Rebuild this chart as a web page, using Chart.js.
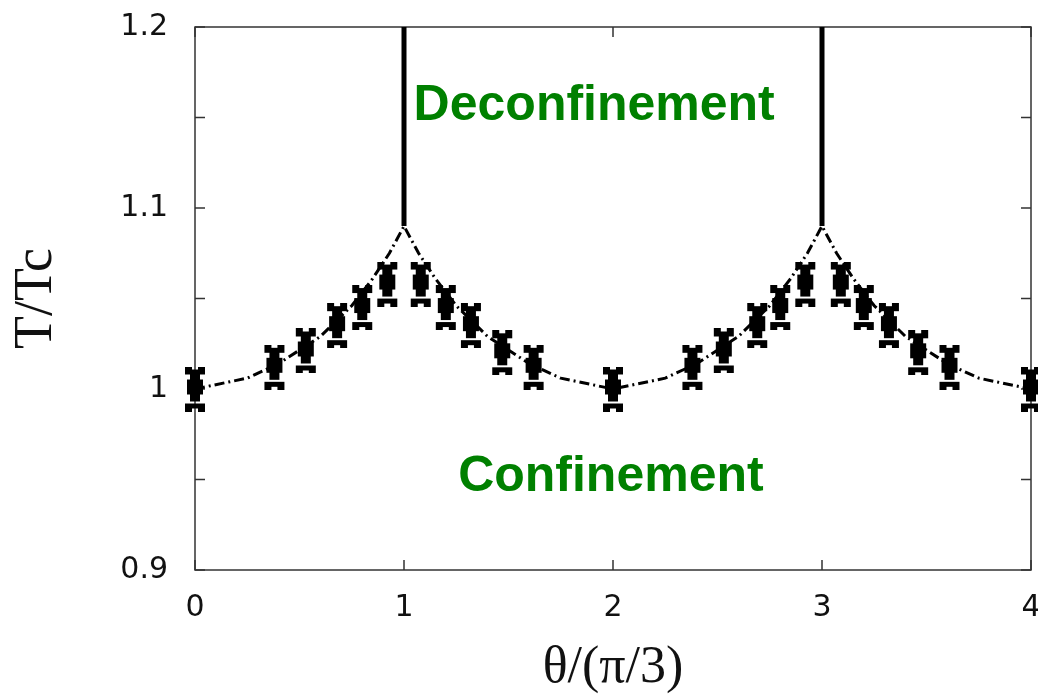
<!DOCTYPE html>
<html>
<head>
<meta charset="utf-8">
<script src="https://cdn.jsdelivr.net/npm/chart.js@4.4.1/dist/chart.umd.min.js"></script>
<style>
  html, body { margin: 0; padding: 0; background: #fff; overflow: hidden; }
  #wrap { width: 1043px; height: 694px; }
</style>
</head>
<body>
<div id="wrap"><canvas id="chart-phase"></canvas></div>
<script>
// phase diagram T/Tc vs theta/(pi/3)
const curveX = [0, 0.25, 0.4, 0.6, 0.75, 0.85, 0.93, 1, 1.07, 1.15, 1.25, 1.4, 1.6, 1.75, 2,
                2.25, 2.4, 2.6, 2.75, 2.85, 2.93, 3, 3.07, 3.15, 3.25, 3.4, 3.6, 3.75, 4];
const curveY = [1.000, 1.006, 1.014, 1.029, 1.046, 1.061, 1.075, 1.090, 1.075, 1.061, 1.046, 1.029, 1.014, 1.006, 1.000,
                1.006, 1.014, 1.029, 1.046, 1.061, 1.075, 1.090, 1.075, 1.061, 1.046, 1.029, 1.014, 1.006, 1.000];

const pointsX = [0, 0.38, 0.53, 0.68, 0.8, 0.92, 1.08, 1.2, 1.32, 1.47, 1.62, 2.0,
                 2.38, 2.53, 2.69, 2.8, 2.92, 3.09, 3.2, 3.32, 3.46, 3.61, 4.0];
const pointsY = [1.0, 1.012, 1.021, 1.035, 1.045, 1.058, 1.058, 1.045, 1.035, 1.02, 1.012, 1.0,
                 1.012, 1.021, 1.035, 1.045, 1.058, 1.058, 1.045, 1.035, 1.02, 1.012, 1.0];

const wallX = [1, 3];
const wallY = [1.09, 1.2];

const xTickValues = [0, 1, 2, 3, 4];
const xTickLabels = ['0', '1', '2', '3', '4'];
const yTickValues = [0.9, 1.0, 1.1, 1.2];
const yTickLabels = ['0.9', '1', '1.1', '1.2'];

const regionLabels = ['Deconfinement', 'Confinement'];
const regionX = [1.91, 1.99];
const regionY = [1.156, 0.951];

// error-bar style marker
function makeMarker() {
    const c = document.createElement('canvas');
    c.width = 22;
    c.height = 45;
    const g = c.getContext('2d');
    g.fillStyle = '#000';
    g.fillRect(1, 0, 20, 8);
    g.clearRect(8, 0, 6, 3);
    g.fillRect(6, 8, 10, 27);
    g.fillRect(3, 13, 16, 15);
    g.fillRect(1, 37, 20, 8);
    g.clearRect(8, 42, 6, 3);
    return c;
}

function matchLabel(v, values, labels) {
    for (let i = 0; i < values.length; i++) {
        if (Math.abs(v - values[i]) < 1e-6) return labels[i];
    }
    return '';
}

const framePlugin = {
    id: 'frame',
    beforeDatasetsDraw(chart) {
        const { ctx, chartArea: a, scales } = chart;
        ctx.save();
        ctx.strokeStyle = '#333';
        ctx.lineWidth = 1.5;
        ctx.strokeRect(a.left, a.top, a.right - a.left, a.bottom - a.top);
        ctx.beginPath();
        scales.y.ticks.forEach(t => {
            const py = scales.y.getPixelForValue(t.value);
            ctx.moveTo(a.left, py); ctx.lineTo(a.left + 10, py);
            ctx.moveTo(a.right, py); ctx.lineTo(a.right - 10, py);
        });
        scales.x.ticks.forEach(t => {
            const px = scales.x.getPixelForValue(t.value);
            ctx.moveTo(px, a.bottom); ctx.lineTo(px, a.bottom - 10);
            ctx.moveTo(px, a.top); ctx.lineTo(px, a.top + 10);
        });
        ctx.stroke();
        ctx.restore();
    },
    afterDatasetsDraw(chart) {
        const { ctx, scales } = chart;
        ctx.save();
        ctx.fillStyle = '#008000';
        ctx.font = 'bold 50px "Liberation Sans", Arial, sans-serif';
        ctx.textAlign = 'center';
        ctx.textBaseline = 'middle';
        regionLabels.forEach((txt, i) => {
            ctx.fillText(txt, scales.x.getPixelForValue(regionX[i]), scales.y.getPixelForValue(regionY[i]));
        });
        ctx.restore();
    }
};

const ctx = document.getElementById('chart-phase');

new Chart(ctx, {
    type: 'scatter',
    data: {
        datasets: [
            {
                label: 'crossover',
                data: curveX.map((x, i) => ({ x: x, y: curveY[i] })),
                showLine: true,
                borderColor: '#000',
                borderWidth: 3,
                borderDash: [10, 4, 2, 4],
                pointRadius: 0,
                tension: 0
            },
            ...wallX.map(x => ({
                label: 'wall',
                data: wallY.map(y => ({ x: x, y: y })),
                showLine: true,
                borderColor: '#000',
                borderWidth: 5,
                pointRadius: 0
            })),
            {
                label: 'lattice',
                data: pointsX.map((x, i) => ({ x: x, y: pointsY[i] })),
                pointStyle: makeMarker(),
                pointRadius: 11,
                clip: false
            }
        ]
    },
    options: {
        responsive: true,
        maintainAspectRatio: false,
        animation: false,
        layout: { padding: { top: 27, right: 3, left: 0, bottom: 0 } },
        plugins: {
            legend: { display: false },
            tooltip: { enabled: false }
        },
        scales: {
            x: {
                type: 'linear',
                min: 0,
                max: 4,
                grid: { display: false, drawTicks: false },
                border: { display: false },
                ticks: {
                    stepSize: 1,
                    padding: 20,
                    color: '#111',
                    font: { family: '"DejaVu Sans", sans-serif', size: 30 },
                    callback: v => matchLabel(v, xTickValues, xTickLabels)
                },
                title: {
                    display: true,
                    text: 'θ/(π/3)',
                    color: '#111',
                    padding: 0,
                    font: { family: '"Liberation Serif", "Times New Roman", serif', size: 52, lineHeight: 1 }
                },
                afterFit: s => { s.height = 124; s.paddingLeft = 0; s.paddingRight = 0; }
            },
            y: {
                type: 'linear',
                min: 0.9,
                max: 1.2,
                grid: { display: false, drawTicks: false },
                border: { display: false },
                ticks: {
                    stepSize: 0.05,
                    padding: 27,
                    color: '#111',
                    font: { family: '"DejaVu Sans", sans-serif', size: 30 },
                    callback: v => matchLabel(v, yTickValues, yTickLabels)
                },
                title: {
                    display: true,
                    text: 'T/Tc',
                    color: '#111',
                    padding: { top: 10, bottom: 0 },
                    font: { family: '"Liberation Serif", "Times New Roman", serif', size: 54, lineHeight: 1 }
                },
                afterFit: s => { s.width = 195; s.paddingTop = 0; s.paddingBottom = 0; }
            }
        }
    },
    plugins: [framePlugin]
});
</script>
</body>
</html>
